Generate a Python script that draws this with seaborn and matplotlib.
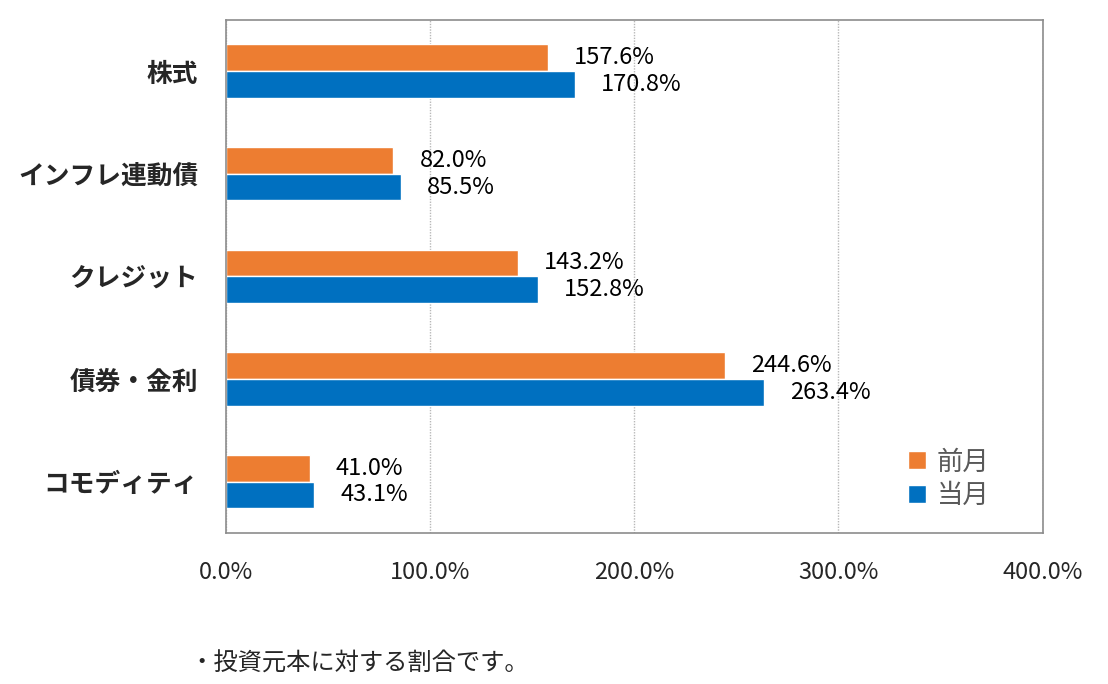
import pandas as pd
import matplotlib.pyplot as plt
import matplotlib.ticker as mticker
import seaborn as sns

categories = ['株式', 'インフレ連動債', 'クレジット', '債券・金利', 'コモディティ']
prev_month = [157.6, 82.0, 143.2, 244.6, 41.0]
this_month = [170.8, 85.5, 152.8, 263.4, 43.1]
series_names = ['前月', '当月']
colors = ['#ED7D31', '#0070C0']
x_ticks = [0, 100, 200, 300, 400]


def main():
    sns.set_style('white')
    plt.rcParams['font.family'] = ['Noto Sans CJK JP', 'DejaVu Sans']

    df = pd.DataFrame({
        'category': categories * 2,
        'value': prev_month + this_month,
        'series': [series_names[0]] * len(categories) + [series_names[1]] * len(categories),
    })

    fig = plt.figure(figsize=(11.08, 6.84), dpi=100)
    ax = fig.add_axes([0.204, 0.221, 0.737, 0.750])

    sns.barplot(data=df, y='category', x='value', hue='series', orient='h',
                palette=colors, width=0.52, saturation=1, ax=ax, legend=True)

    ax.set_xlim(0, 400)
    ax.set_ylim(len(categories) - 0.5, -0.5)
    ax.set_xticks(x_ticks)
    ax.xaxis.set_major_formatter(mticker.FuncFormatter(lambda v, p: f'{v:.1f}%'))
    ax.tick_params(axis='x', length=0, pad=20, labelsize=17)
    ax.tick_params(axis='y', length=0, pad=20, labelsize=18.5)
    for lab in ax.get_yticklabels():
        lab.set_fontweight('bold')
    ax.set_yticks([i + 0.5 for i in range(len(categories) - 1)], minor=True)
    ax.tick_params(axis='y', which='minor', direction='in', length=8, color='#A0A0A0')
    ax.set_xlabel('')
    ax.set_ylabel('')

    ax.grid(axis='x', linestyle=(0, (1, 1)), color='#B8B8B8', linewidth=1)
    ax.set_axisbelow(True)
    for sp in ax.spines.values():
        sp.set_color('#8C8C8C')
        sp.set_linewidth(1.2)

    for cont in ax.containers:
        for bar in cont:
            w = bar.get_width()
            ax.annotate(f'{w:.1f}%', (w, bar.get_y() + bar.get_height() / 2),
                        xytext=(26, 0), textcoords='offset pixels',
                        va='center', ha='left', fontsize=17, color='black')

    leg = ax.legend(loc='lower right', bbox_to_anchor=(0.964, 0.0), frameon=False,
                    fontsize=19, handlelength=0.7, handleheight=0.7, handletextpad=0.4,
                    labelspacing=0.25)
    for t in leg.get_texts():
        t.set_color('#595959')

    fig.text(0.171, 0.03, '・投資元本に対する割合です。', fontsize=17.5, ha='left', va='center')

    fig.savefig('out.png', dpi=100)


if __name__ == '__main__':
    main()
